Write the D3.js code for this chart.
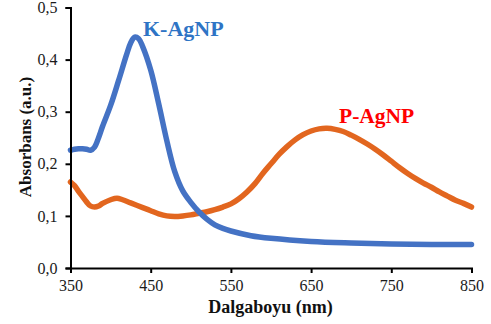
<!DOCTYPE html>
<html>
<head>
<meta charset="utf-8">
<script src="https://cdn.jsdelivr.net/npm/d3@7"></script>
<style>
  html, body { margin: 0; padding: 0; background: #fff; }
</style>
</head>
<body>
<svg id="chart" width="491" height="324"></svg>
<script>
// ── Data ──────────────────────────────────────────────────────────────────
const kWave = [350, 355, 360, 365, 370, 375, 380, 385, 390, 400, 410, 420, 425, 430, 435, 440,
               450, 460, 470, 480, 490, 500, 510, 520, 530, 540, 550, 575, 600, 650, 700, 750, 800, 850];
const kAbs  = [0.226, 0.228, 0.229, 0.229, 0.228, 0.226, 0.232, 0.250, 0.272, 0.312, 0.360, 0.410, 0.432, 0.443, 0.440, 0.425,
               0.380, 0.315, 0.245, 0.185, 0.148, 0.126, 0.108, 0.094, 0.083, 0.076, 0.071, 0.062, 0.057, 0.051, 0.048, 0.046, 0.045, 0.045];

const pWave = [350, 355, 360, 365, 370, 375, 380, 385, 390, 400, 408, 415, 425, 440, 450, 460, 470, 480, 490, 500,
               510, 520, 530, 540, 550, 560, 570, 580, 590, 600, 610, 620, 630, 640, 650, 660, 670, 680, 690, 700,
               710, 720, 730, 740, 750, 760, 770, 780, 790, 800, 810, 820, 830, 840, 850];
const pAbs  = [0.165, 0.158, 0.147, 0.137, 0.127, 0.119, 0.117, 0.119, 0.124, 0.131, 0.134, 0.131, 0.125, 0.116, 0.110, 0.104, 0.100, 0.099, 0.100, 0.102,
               0.105, 0.108, 0.112, 0.117, 0.123, 0.133, 0.146, 0.162, 0.182, 0.200, 0.218, 0.233, 0.246, 0.256, 0.263, 0.267, 0.268, 0.266, 0.262, 0.255,
               0.247, 0.238, 0.228, 0.217, 0.205, 0.193, 0.182, 0.172, 0.163, 0.155, 0.146, 0.138, 0.130, 0.124, 0.117];

const xTicks = [350, 450, 550, 650, 750, 850];
const yTicks = [0, 0.1, 0.2, 0.3, 0.4, 0.5];

const FONT = '"Liberation Serif", "Times New Roman", Times, "DejaVu Serif", serif';

const svg = d3.select('#chart');

// Plot geometry
const x = d3.scaleLinear().domain([350, 850]).range([70.5, 471.5]);
const y = d3.scaleLinear().domain([0, 0.5]).range([268, 7.5]);

const commaFmt = d => d3.format('.1f')(d).replace('.', ',');

// ── Curves ────────────────────────────────────────────────────────────────
const line = d3.line()
  .x(d => x(d[0]))
  .y(d => y(d[1]))
  .curve(d3.curveCatmullRom.alpha(0.5));

const series = [
  { pts: d3.zip(pWave, pAbs), color: '#E2661F' },
  { pts: d3.zip(kWave, kAbs), color: '#4472C4' }
];

svg.selectAll('path.curve')
  .data(series)
  .join('path')
  .attr('class', 'curve')
  .attr('d', d => line(d.pts))
  .attr('fill', 'none')
  .attr('stroke', d => d.color)
  .attr('stroke-width', 5.5)
  .attr('stroke-linecap', 'round')
  .attr('stroke-linejoin', 'round');

// ── Axes ──────────────────────────────────────────────────────────────────
const xAxis = svg.append('g')
  .attr('transform', `translate(0,${y(0)})`)
  .call(d3.axisBottom(x).tickValues(xTicks).tickSize(5).tickPadding(7).tickFormat(d3.format('d')));

const yAxis = svg.append('g')
  .attr('transform', `translate(${x(350)},0)`)
  .call(d3.axisLeft(y).tickValues(yTicks).tickSize(5).tickPadding(8).tickFormat(commaFmt));

[xAxis, yAxis].forEach(g => {
  g.attr('font-family', FONT).attr('font-size', 16);
  g.selectAll('path, line').attr('stroke', '#000').attr('stroke-width', 2);
  g.selectAll('text').attr('fill', '#1a1a1a');
});

// Axis titles
svg.append('text')
  .attr('x', 270.5).attr('y', 313)
  .attr('text-anchor', 'middle')
  .attr('font-family', FONT)
  .attr('font-weight', 'bold')
  .attr('font-size', 18)
  .attr('fill', '#111')
  .text('Dalgaboyu (nm)');

svg.append('text')
  .attr('transform', 'translate(31,137) rotate(-90)')
  .attr('text-anchor', 'middle')
  .attr('font-family', FONT)
  .attr('font-weight', 'bold')
  .attr('font-size', 17)
  .attr('fill', '#111')
  .text('Absorbans (a.u.)');

// Series labels
svg.append('text')
  .attr('x', 143).attr('y', 36)
  .attr('font-family', FONT)
  .attr('font-weight', 'bold')
  .attr('font-size', 22)
  .attr('fill', '#2E74C5')
  .text('K-AgNP');

svg.append('text')
  .attr('x', 339).attr('y', 123)
  .attr('font-family', FONT)
  .attr('font-weight', 'bold')
  .attr('font-size', 21.5)
  .attr('fill', '#FF0000')
  .text('P-AgNP');
</script>
</body>
</html>
